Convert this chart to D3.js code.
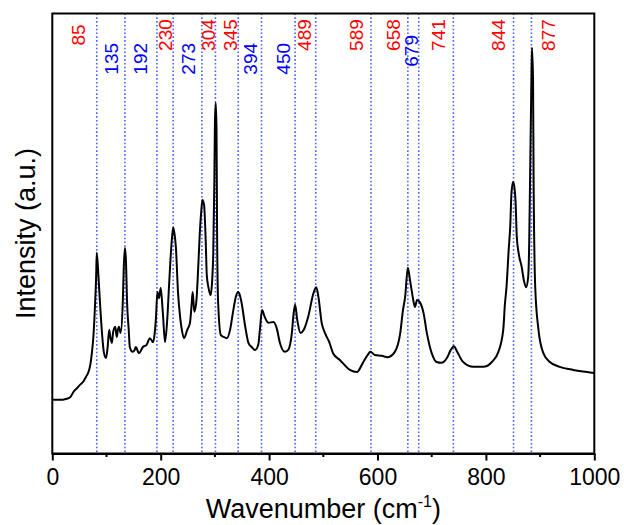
<!DOCTYPE html>
<html><head><meta charset="utf-8">
<script src="https://cdn.jsdelivr.net/npm/d3@7/dist/d3.min.js"></script>
<style>body{margin:0;background:#fff}svg{display:block}</style>
</head><body>
<svg id="chart" width="624" height="525"></svg>
<script>
// Raman spectrum (wavenumber, intensity a.u.)
const wavenumber = [0,14,25,33,40,46,51,57,62,66,70,73,76,79,81,82,85,88,92,95,99,102,105,107,110,112,116,119,121,123,126,130,132,134,136,138,141,143,148,152,154,160,167,174,180,186,189,191,194,197,200,204,208,212,215,218,221,223,225,228,232,236,239,243,249,254,257,259,262,266,269,272,275,277,280,283,285,288,292,295,297,299,300,301.5,303,304,306,311,316,322,328,334,339,343,346,349,356,362,368,374,380,383,387,392,399,408,414,420,429,435,442,445,448,452,458,464,472,482,487,491,497,503,511,518,531,549,562,573,582,587,595,608,619,632,642,647,651,656,660,665,669,673,678,685,691,700,709,718,728,735,741,747,758,777,795,811,823,832,835,838,842,845,847,850,852,855,857,861,866,870,874,878,880,882,884,885,887,888,891,897,906,918,936,961,987,1000];
const intensity = [12.2,12.2,12.4,12.8,14.2,14.9,15.6,16.3,17.4,18.3,20.1,22.8,26.9,34.2,40.6,45.6,40.6,34.2,26.9,23.1,21.7,24.0,28.1,26.5,25.1,27.4,28.8,26.5,28.1,28.8,27.4,34.2,42.8,46.7,43.5,34.2,28.1,24.2,23.1,23.5,24.2,22.8,24.2,24.7,26.2,25.3,27.4,30.3,36.7,35.3,37.6,31.9,25.3,30.3,37.2,44.0,49.2,51.3,50.3,46.9,36.5,30.8,28.1,26.2,28.1,29.7,33.8,36.7,32.2,34.9,41.7,49.7,55.3,57.6,56.5,48.5,40.6,37.8,36.0,39.4,45.6,62.2,74.7,79.7,73.5,50.8,34.2,26.9,26.5,26.2,28.1,32.6,35.8,36.7,36.0,34.4,28.8,25.1,24.2,23.5,24.7,28.1,32.6,31.0,29.7,29.9,28.5,25.1,23.1,23.5,27.4,31.5,33.8,30.3,27.4,28.1,31.0,36.5,37.8,35.6,29.7,27.4,25.3,22.8,21.2,19.0,18.5,20.6,22.4,23.1,22.4,22.2,21.9,23.1,27.4,32.6,35.6,42.2,39.4,35.6,33.3,34.9,34.4,31.9,27.4,22.8,20.8,20.6,21.7,23.5,24.4,23.1,20.8,19.7,19.7,20.8,23.1,28.1,33.8,37.8,46.2,51.9,58.8,61.7,61.0,56.5,49.2,45.1,42.4,39.4,37.8,40.1,48.5,67.4,84.9,92.2,84.9,62.2,37.8,28.1,22.8,20.8,19.7,19.0,18.5,18.3];

// Reference (dotted) lines at assigned bands
const bandLines = [82,134,193,223,276,301,343,386,448,486,588,656,676,740,851,884];
// Peak annotations
const peakLabels = ["85","135","192","230","273","304","345","394","450","489","589","658","679","741","844","877"];
const labelAt    = [48,110,162,208,251,288,328,365,426,466,562,629,663,712,823,915];
const labelGroup = ["A","B","B","A","B","A","A","B","B","A","A","A","B","A","A","A"];

const xTicks = [0,200,400,600,800,1000];
const xMinorTicks = [100,300,500,700,900];

const svg = d3.select("#chart");
const m = {l:52.3, r:594.3, t:13.5, b:453.5};
const x = d3.scaleLinear().domain([0,1000]).range([m.l, m.r]);
const y = d3.scaleLinear().domain([0,100]).range([m.b, m.t]);

const font = "Arial, 'Liberation Sans', sans-serif";
const groupColor = {A:"#ff0000", B:"#0000ff"};
const groupY = {A:95.1, B:89.7};

// dotted lines
svg.append("g").selectAll("line").data(bandLines).join("line")
  .attr("x1", d=>x(d)).attr("x2", d=>x(d))
  .attr("y1", m.t).attr("y2", m.b)
  .attr("stroke", "#4a63ff").attr("stroke-width", 1.6)
  .attr("stroke-dasharray", "1.6,2.2");

// spectrum
const pts = wavenumber.map((w,i)=>[w,intensity[i]]);
svg.append("path").datum(pts)
  .attr("fill","none").attr("stroke","#000").attr("stroke-width",2)
  .attr("stroke-linejoin","round")
  .attr("d", d3.line().x(d=>x(d[0])).y(d=>y(d[1])).curve(d3.curveMonotoneX));

// labels
svg.append("g").selectAll("text").data(peakLabels).join("text")
  .attr("transform", (d,i)=>{
    let yy = y(groupY[labelGroup[i]]);
    if (d==="679") yy = y(91.5);
    return `translate(${x(labelAt[i])},${yy}) rotate(-90)`;
  })
  .attr("text-anchor","middle").attr("dominant-baseline","central")
  .attr("fill",(d,i)=>groupColor[labelGroup[i]])
  .attr("font-family",font).attr("font-size",19)
  .text(d=>d);

// frame
svg.append("rect").attr("x",m.l).attr("y",m.t).attr("width",m.r-m.l).attr("height",m.b-m.t)
  .attr("fill","none").attr("stroke","#000").attr("stroke-width",2);

// x axis
const gx = svg.append("g").attr("transform",`translate(0,${m.b})`);
gx.call(d3.axisBottom(x).tickValues(xTicks).tickSize(7).tickSizeOuter(0).tickPadding(8).tickFormat(d3.format("d")))
  .call(g=>g.select(".domain").attr("stroke-width",2))
  .call(g=>g.selectAll(".tick line").attr("stroke-width",2))
  .call(g=>g.selectAll("text").attr("font-family",font).attr("font-size",23).attr("fill","#000"));
gx.selectAll(".minor").data(xMinorTicks).join("line").attr("class","minor")
  .attr("x1",d=>x(d)).attr("x2",d=>x(d)).attr("y1",0).attr("y2",3.5)
  .attr("stroke","#000").attr("stroke-width",2);

// axis titles
const xt = svg.append("text").attr("x",(m.l+m.r)/2).attr("y",518)
  .attr("text-anchor","middle").attr("font-family",font).attr("font-size",27).attr("fill","#000");
xt.append("tspan").text("Wavenumber (cm");
xt.append("tspan").attr("font-size",16).attr("dy",-11).text("-1");
xt.append("tspan").attr("dy",11).text(")");

svg.append("text").attr("transform",`translate(35,${(m.t+m.b)/2}) rotate(-90)`)
  .attr("text-anchor","middle").attr("font-family",font).attr("font-size",27).attr("fill","#000")
  .text("Intensity (a.u.)");
</script>
</body></html>
